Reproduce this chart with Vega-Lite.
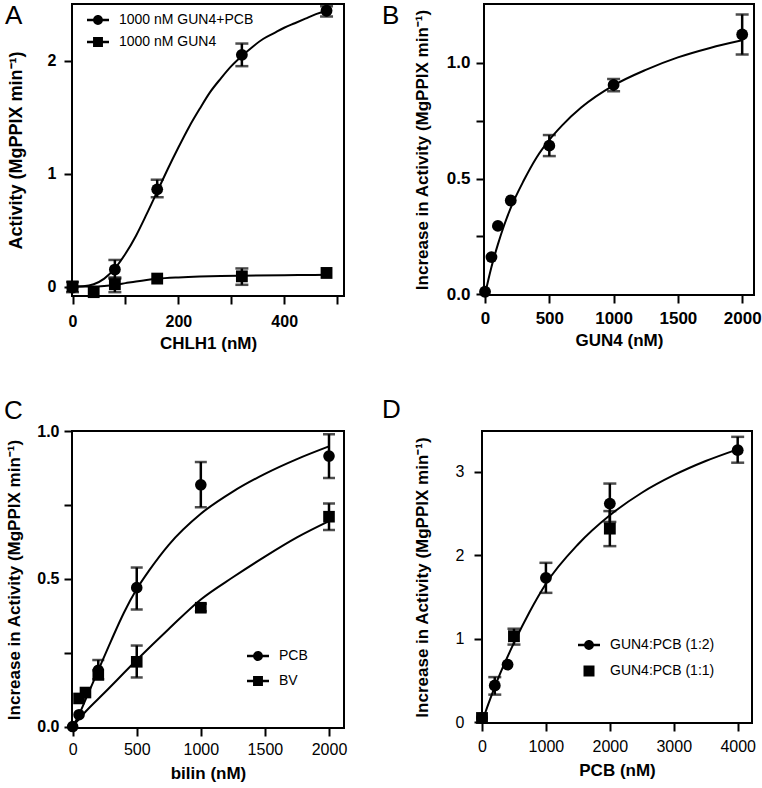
{
  "$schema": "https://vega.github.io/schema/vega-lite/v6.json",
  "padding": {"left": 3, "top": 2, "right": 0, "bottom": 0},
  "background": "white",
  "datasets": {
    "a_pts": [
      {"conc": 0, "activity": -0.01, "err_lo": -0.05, "err_hi": 0.04, "series": "1000 nM GUN4+PCB"},
      {"conc": 80, "activity": 0.15, "err_lo": 0.07, "err_hi": 0.235, "series": "1000 nM GUN4+PCB"},
      {"conc": 160, "activity": 0.86, "err_lo": 0.79, "err_hi": 0.945, "series": "1000 nM GUN4+PCB"},
      {"conc": 320, "activity": 2.05, "err_lo": 1.95, "err_hi": 2.15, "series": "1000 nM GUN4+PCB"},
      {"conc": 480, "activity": 2.44, "err_lo": 2.39, "err_hi": 2.48, "series": "1000 nM GUN4+PCB"},
      {"conc": 0, "activity": 0.0, "series": "1000 nM GUN4"},
      {"conc": 40, "activity": -0.05, "series": "1000 nM GUN4"},
      {"conc": 80, "activity": 0.02, "err_lo": -0.05, "err_hi": 0.08, "series": "1000 nM GUN4"},
      {"conc": 160, "activity": 0.07, "series": "1000 nM GUN4"},
      {"conc": 320, "activity": 0.09, "err_lo": 0.015, "err_hi": 0.16, "series": "1000 nM GUN4"},
      {"conc": 480, "activity": 0.12, "series": "1000 nM GUN4"}
    ],
    "a_fit": [
      {"conc": 0, "activity": 0, "series": "PCB"},
      {"conc": 20, "activity": 0.003, "series": "PCB"},
      {"conc": 40, "activity": 0.02, "series": "PCB"},
      {"conc": 60, "activity": 0.07, "series": "PCB"},
      {"conc": 80, "activity": 0.16, "series": "PCB"},
      {"conc": 100, "activity": 0.29, "series": "PCB"},
      {"conc": 120, "activity": 0.45, "series": "PCB"},
      {"conc": 140, "activity": 0.64, "series": "PCB"},
      {"conc": 160, "activity": 0.84, "series": "PCB"},
      {"conc": 180, "activity": 1.04, "series": "PCB"},
      {"conc": 200, "activity": 1.23, "series": "PCB"},
      {"conc": 220, "activity": 1.41, "series": "PCB"},
      {"conc": 240, "activity": 1.57, "series": "PCB"},
      {"conc": 260, "activity": 1.72, "series": "PCB"},
      {"conc": 280, "activity": 1.84, "series": "PCB"},
      {"conc": 300, "activity": 1.95, "series": "PCB"},
      {"conc": 320, "activity": 2.04, "series": "PCB"},
      {"conc": 340, "activity": 2.12, "series": "PCB"},
      {"conc": 360, "activity": 2.19, "series": "PCB"},
      {"conc": 380, "activity": 2.24, "series": "PCB"},
      {"conc": 400, "activity": 2.29, "series": "PCB"},
      {"conc": 420, "activity": 2.33, "series": "PCB"},
      {"conc": 440, "activity": 2.37, "series": "PCB"},
      {"conc": 460, "activity": 2.41, "series": "PCB"},
      {"conc": 480, "activity": 2.44, "series": "PCB"},
      {"conc": 490, "activity": 2.45, "series": "PCB"},
      {"conc": 0, "activity": 0, "series": "GUN4"},
      {"conc": 40, "activity": 0.0, "series": "GUN4"},
      {"conc": 60, "activity": 0.005, "series": "GUN4"},
      {"conc": 80, "activity": 0.015, "series": "GUN4"},
      {"conc": 100, "activity": 0.03, "series": "GUN4"},
      {"conc": 120, "activity": 0.045, "series": "GUN4"},
      {"conc": 140, "activity": 0.058, "series": "GUN4"},
      {"conc": 160, "activity": 0.068, "series": "GUN4"},
      {"conc": 200, "activity": 0.08, "series": "GUN4"},
      {"conc": 240, "activity": 0.088, "series": "GUN4"},
      {"conc": 280, "activity": 0.093, "series": "GUN4"},
      {"conc": 320, "activity": 0.096, "series": "GUN4"},
      {"conc": 400, "activity": 0.1, "series": "GUN4"},
      {"conc": 480, "activity": 0.104, "series": "GUN4"},
      {"conc": 490, "activity": 0.105, "series": "GUN4"}
    ],
    "b_pts": [
      {"conc": 0, "activity": 0.01},
      {"conc": 50, "activity": 0.16},
      {"conc": 100, "activity": 0.295},
      {"conc": 200, "activity": 0.405},
      {"conc": 500, "activity": 0.642, "err_lo": 0.597, "err_hi": 0.688},
      {"conc": 1000, "activity": 0.905, "err_lo": 0.878, "err_hi": 0.93},
      {"conc": 2000, "activity": 1.123, "err_lo": 1.036, "err_hi": 1.21}
    ],
    "b_fit": [
      {"conc": 0, "activity": 0},
      {"conc": 25, "activity": 0.06},
      {"conc": 50, "activity": 0.117},
      {"conc": 100, "activity": 0.215},
      {"conc": 150, "activity": 0.3},
      {"conc": 200, "activity": 0.373},
      {"conc": 300, "activity": 0.49},
      {"conc": 400, "activity": 0.59},
      {"conc": 500, "activity": 0.667},
      {"conc": 600, "activity": 0.73},
      {"conc": 750, "activity": 0.808},
      {"conc": 1000, "activity": 0.903},
      {"conc": 1250, "activity": 0.97},
      {"conc": 1500, "activity": 1.024},
      {"conc": 1750, "activity": 1.065},
      {"conc": 2000, "activity": 1.098}
    ],
    "c_pts": [
      {"conc": 0, "activity": 0.0, "series": "PCB"},
      {"conc": 50, "activity": 0.04, "series": "PCB"},
      {"conc": 200, "activity": 0.19, "err_lo": 0.16, "err_hi": 0.225, "series": "PCB"},
      {"conc": 500, "activity": 0.47, "err_lo": 0.396, "err_hi": 0.538, "series": "PCB"},
      {"conc": 1000, "activity": 0.818, "err_lo": 0.742, "err_hi": 0.895, "series": "PCB"},
      {"conc": 2000, "activity": 0.915, "err_lo": 0.841, "err_hi": 0.989, "series": "PCB"},
      {"conc": 50, "activity": 0.095, "series": "BV"},
      {"conc": 100, "activity": 0.115, "series": "BV"},
      {"conc": 200, "activity": 0.175, "series": "BV"},
      {"conc": 500, "activity": 0.219, "err_lo": 0.166, "err_hi": 0.274, "series": "BV"},
      {"conc": 1000, "activity": 0.402, "err_lo": 0.39, "err_hi": 0.415, "series": "BV"},
      {"conc": 2000, "activity": 0.71, "err_lo": 0.665, "err_hi": 0.755, "series": "BV"}
    ],
    "c_fit": [
      {"conc": 0, "activity": 0, "series": "PCB"},
      {"conc": 50, "activity": 0.04, "series": "PCB"},
      {"conc": 100, "activity": 0.09, "series": "PCB"},
      {"conc": 200, "activity": 0.19, "series": "PCB"},
      {"conc": 300, "activity": 0.29, "series": "PCB"},
      {"conc": 400, "activity": 0.385, "series": "PCB"},
      {"conc": 500, "activity": 0.465, "series": "PCB"},
      {"conc": 600, "activity": 0.53, "series": "PCB"},
      {"conc": 750, "activity": 0.615, "series": "PCB"},
      {"conc": 1000, "activity": 0.72, "series": "PCB"},
      {"conc": 1250, "activity": 0.795, "series": "PCB"},
      {"conc": 1500, "activity": 0.855, "series": "PCB"},
      {"conc": 1750, "activity": 0.905, "series": "PCB"},
      {"conc": 2000, "activity": 0.948, "series": "PCB"},
      {"conc": 0, "activity": 0, "series": "BV"},
      {"conc": 100, "activity": 0.05, "series": "BV"},
      {"conc": 250, "activity": 0.115, "series": "BV"},
      {"conc": 500, "activity": 0.225, "series": "BV"},
      {"conc": 750, "activity": 0.33, "series": "BV"},
      {"conc": 1000, "activity": 0.43, "series": "BV"},
      {"conc": 1250, "activity": 0.505, "series": "BV"},
      {"conc": 1500, "activity": 0.575, "series": "BV"},
      {"conc": 1750, "activity": 0.64, "series": "BV"},
      {"conc": 2000, "activity": 0.695, "series": "BV"}
    ],
    "d_pts": [
      {"conc": 0, "activity": 0.05, "series": "GUN4:PCB (1:2)"},
      {"conc": 200, "activity": 0.44, "err_lo": 0.33, "err_hi": 0.54, "series": "GUN4:PCB (1:2)"},
      {"conc": 400, "activity": 0.69, "series": "GUN4:PCB (1:2)"},
      {"conc": 1000, "activity": 1.73, "err_lo": 1.55, "err_hi": 1.91, "series": "GUN4:PCB (1:2)"},
      {"conc": 2000, "activity": 2.62, "err_lo": 2.4, "err_hi": 2.86, "series": "GUN4:PCB (1:2)"},
      {"conc": 4000, "activity": 3.26, "err_lo": 3.11, "err_hi": 3.42, "series": "GUN4:PCB (1:2)"},
      {"conc": 0, "activity": 0.05, "series": "GUN4:PCB (1:1)"},
      {"conc": 500, "activity": 1.03, "err_lo": 0.93, "err_hi": 1.12, "series": "GUN4:PCB (1:1)"},
      {"conc": 2000, "activity": 2.32, "err_lo": 2.11, "err_hi": 2.53, "series": "GUN4:PCB (1:1)"}
    ],
    "d_fit": [
      {"conc": 0, "activity": 0},
      {"conc": 100, "activity": 0.22},
      {"conc": 250, "activity": 0.52},
      {"conc": 500, "activity": 0.95},
      {"conc": 750, "activity": 1.33},
      {"conc": 1000, "activity": 1.66},
      {"conc": 1500, "activity": 2.13},
      {"conc": 2000, "activity": 2.48},
      {"conc": 2500, "activity": 2.75},
      {"conc": 3000, "activity": 2.96},
      {"conc": 3500, "activity": 3.13},
      {"conc": 4000, "activity": 3.27}
    ]
  },
  "spacing": 44,
  "vconcat": [
    {
      "spacing": 36,
      "hconcat": [
        {
          "width": 272,
          "height": 292,
          "title": {"text": "A", "dx": -67, "dy": 29},
          "encoding": {
            "x": {"field": "conc", "type": "quantitative", "scale": {"domain": [-1, 513], "nice": false, "zero": false},
              "axis": {"values": [0, 100, 200, 300, 400, 500], "format": "d", "labelExpr": "datum.value % 200 === 0 ? datum.label : ''", "title": "CHLH1 (nM)", "labelFontWeight": "bold", "labelPadding": 9, "titlePadding": 6}},
            "y": {"field": "activity", "type": "quantitative", "scale": {"domain": [-0.084, 2.5], "nice": false, "zero": false},
              "axis": {"values": [0, 1, 2], "title": "Activity (MgPPIX min⁻¹)", "labelFontWeight": "bold", "labelPadding": 8, "titleFontSize": 18, "titlePadding": 22}}
          },
          "layer": [
            {"data": {"name": "a_fit"}, "mark": {"type": "line", "color": "black", "strokeWidth": 2, "interpolate": "monotone"}, "encoding": {"detail": {"field": "series"}}},
            {"data": {"name": "a_pts"}, "transform": [{"filter": "isValid(datum.err_lo)"}],
              "mark": {"type": "errorbar", "color": "black", "thickness": 2.5, "ticks": {"size": 13, "thickness": 2.5, "color": "black"}},
              "encoding": {"y": {"field": "err_lo", "type": "quantitative", "scale": {"domain": [-0.084, 2.5], "nice": false, "zero": false}}, "y2": {"field": "err_hi"}}},
            {"data": {"name": "a_pts"}, "mark": {"type": "point", "filled": true, "opacity": 1, "color": "black", "size": 140},
              "encoding": {"shape": {"field": "series", "type": "nominal", "scale": {"domain": ["1000 nM GUN4+PCB", "1000 nM GUN4"], "range": ["circle", "square"]}, "legend": null}}},
            {"data": {"name": "a_pts"}, "transform": [{"filter": "false"}], "mark": {"type": "point", "filled": true, "opacity": 1, "color": "black"},
              "encoding": {"shape": {"field": "series", "type": "nominal",
                "scale": {"domain": ["1000 nM GUN4+PCB", "1000 nM GUN4"], "range": ["M-1,-0.12H1V0.12H-1Z M-0.45,0A0.45,0.45,0,1,1,0.45,0A0.45,0.45,0,1,1,-0.45,0Z", "M-1,-0.12H1V0.12H-1Z M-0.45,-0.45H0.45V0.45H-0.45Z"]},
                "legend": {"title": null, "orient": "none", "legendX": 15, "legendY": 5, "padding": 0, "symbolSize": 484, "symbolStrokeWidth": 0, "symbolFillColor": "black", "labelFontSize": 14, "labelOffset": 10, "rowPadding": 4, "labelColor": "black", "labelLimit": 300}}}}
          ],
          "resolve": {"scale": {"shape": "independent"}}
        },
        {
          "width": 270,
          "height": 291,
          "title": {"text": "B", "dx": -102, "dy": 29},
          "encoding": {
            "x": {"field": "conc", "type": "quantitative", "scale": {"domain": [-8, 2092], "nice": false, "zero": false},
              "axis": {"values": [0, 500, 1000, 1500, 2000], "format": "d", "title": "GUN4 (nM)", "labelFontWeight": "bold", "labelFontSize": 17, "labelPadding": 7, "titlePadding": 6}},
            "y": {"field": "activity", "type": "quantitative", "scale": {"domain": [-0.004, 1.255], "nice": false, "zero": false},
              "axis": {"values": [0, 0.25, 0.5, 0.75, 1], "format": ".1f", "labelExpr": "datum.value == 0.25 || datum.value == 0.75 ? '' : datum.label", "title": "Increase in Activity (MgPPIX min⁻¹)", "labelFontWeight": "bold", "labelFontSize": 17, "labelPadding": 6, "titlePadding": 15}}
          },
          "layer": [
            {"data": {"name": "b_fit"}, "mark": {"type": "line", "color": "black", "strokeWidth": 2, "interpolate": "monotone"}, "encoding": {}},
            {"data": {"name": "b_pts"}, "transform": [{"filter": "isValid(datum.err_lo)"}],
              "mark": {"type": "errorbar", "color": "black", "thickness": 2.5, "ticks": {"size": 13, "thickness": 2.5, "color": "black"}},
              "encoding": {"y": {"field": "err_lo", "type": "quantitative", "scale": {"domain": [-0.004, 1.255], "nice": false, "zero": false}}, "y2": {"field": "err_hi"}}},
            {"data": {"name": "b_pts"}, "mark": {"type": "point", "shape": "circle", "filled": true, "opacity": 1, "color": "black", "size": 140}, "encoding": {}}
          ]
        }
      ]
    },
    {
      "spacing": 33,
      "hconcat": [
        {
          "width": 272,
          "height": 297,
          "title": {"text": "C", "dx": -68, "dy": 5},
          "encoding": {
            "x": {"field": "conc", "type": "quantitative", "scale": {"domain": [-5, 2117], "nice": false, "zero": false},
              "axis": {"values": [0, 500, 1000, 1500, 2000], "format": "d", "title": "bilin (nM)", "labelPadding": 5, "titlePadding": 8}},
            "y": {"field": "activity", "type": "quantitative", "scale": {"domain": [-0.005, 1.0], "nice": false, "zero": false},
              "axis": {"values": [0, 0.25, 0.5, 0.75, 1], "format": ".1f", "labelExpr": "datum.value == 0.25 || datum.value == 0.75 ? '' : datum.label", "title": "Increase in Activity (MgPPIX min⁻¹)", "labelFontWeight": "bold", "labelPadding": 5, "titlePadding": 13}}
          },
          "layer": [
            {"data": {"name": "c_fit"}, "mark": {"type": "line", "color": "black", "strokeWidth": 2, "interpolate": "monotone"}, "encoding": {"detail": {"field": "series"}}},
            {"data": {"name": "c_pts"}, "transform": [{"filter": "isValid(datum.err_lo)"}],
              "mark": {"type": "errorbar", "color": "black", "thickness": 2.5, "ticks": {"size": 12, "thickness": 2.5, "color": "black"}},
              "encoding": {"y": {"field": "err_lo", "type": "quantitative", "scale": {"domain": [-0.005, 1.0], "nice": false, "zero": false}}, "y2": {"field": "err_hi"}}},
            {"data": {"name": "c_pts"}, "mark": {"type": "point", "filled": true, "opacity": 1, "color": "black", "size": 135},
              "encoding": {"shape": {"field": "series", "type": "nominal", "scale": {"domain": ["PCB", "BV"], "range": ["circle", "square"]}, "legend": null}}},
            {"data": {"name": "c_pts"}, "transform": [{"filter": "false"}], "mark": {"type": "point", "filled": true, "opacity": 1, "color": "black"},
              "encoding": {"shape": {"field": "series", "type": "nominal",
                "scale": {"domain": ["PCB", "BV"], "range": ["M-1,-0.12H1V0.12H-1Z M-0.45,0A0.45,0.45,0,1,1,0.45,0A0.45,0.45,0,1,1,-0.45,0Z", "M-1,-0.12H1V0.12H-1Z M-0.45,-0.45H0.45V0.45H-0.45Z"]},
                "legend": {"title": null, "orient": "none", "legendX": 175, "legendY": 214, "padding": 0, "symbolSize": 484, "symbolStrokeWidth": 0, "symbolFillColor": "black", "labelFontSize": 14, "labelOffset": 10, "rowPadding": 7, "labelColor": "black", "labelLimit": 300}}}}
          ],
          "resolve": {"scale": {"shape": "independent"}}
        },
        {
          "width": 270,
          "height": 292,
          "title": {"text": "D", "dx": -100, "dy": -4},
          "encoding": {
            "x": {"field": "conc", "type": "quantitative", "scale": {"domain": [0, 4224], "nice": false, "zero": false},
              "axis": {"values": [0, 1000, 2000, 3000, 4000], "format": "d", "title": "PCB (nM)", "labelPadding": 7, "titlePadding": 8}},
            "y": {"field": "activity", "type": "quantitative", "scale": {"domain": [-0.01, 3.49], "nice": false, "zero": false},
              "axis": {"values": [0, 1, 2, 3], "title": "Increase in Activity (MgPPIX min⁻¹)", "labelPadding": 10, "titlePadding": 24}}
          },
          "layer": [
            {"data": {"name": "d_fit"}, "mark": {"type": "line", "color": "black", "strokeWidth": 2, "interpolate": "monotone"}, "encoding": {}},
            {"data": {"name": "d_pts"}, "transform": [{"filter": "isValid(datum.err_lo)"}],
              "mark": {"type": "errorbar", "color": "black", "thickness": 2.5, "ticks": {"size": 13, "thickness": 2.5, "color": "black"}},
              "encoding": {"y": {"field": "err_lo", "type": "quantitative", "scale": {"domain": [-0.01, 3.49], "nice": false, "zero": false}}, "y2": {"field": "err_hi"}}},
            {"data": {"name": "d_pts"}, "mark": {"type": "point", "filled": true, "opacity": 1, "color": "black", "size": 140},
              "encoding": {"shape": {"field": "series", "type": "nominal", "scale": {"domain": ["GUN4:PCB (1:2)", "GUN4:PCB (1:1)"], "range": ["circle", "square"]}, "legend": null}}},
            {"data": {"name": "d_pts"}, "transform": [{"filter": "false"}], "mark": {"type": "point", "filled": true, "opacity": 1, "color": "black"},
              "encoding": {"shape": {"field": "series", "type": "nominal",
                "scale": {"domain": ["GUN4:PCB (1:2)", "GUN4:PCB (1:1)"], "range": ["M-1,-0.12H1V0.12H-1Z M-0.45,0A0.45,0.45,0,1,1,0.45,0A0.45,0.45,0,1,1,-0.45,0Z", "M-0.5,-0.5H0.5V0.5H-0.5Z"]},
                "legend": {"title": null, "orient": "none", "legendX": 96, "legendY": 203, "padding": 0, "symbolSize": 484, "symbolStrokeWidth": 0, "symbolFillColor": "black", "labelFontSize": 14, "labelOffset": 10, "rowPadding": 8, "labelColor": "black", "labelLimit": 300}}}}
          ],
          "resolve": {"scale": {"shape": "independent"}}
        }
      ]
    }
  ],
  "config": {
    "font": "Liberation Sans",
    "view": {"stroke": "black", "strokeWidth": 2},
    "axis": {"domain": false, "grid": false, "ticks": true, "tickColor": "black", "tickWidth": 2, "tickSize": 8, "labelColor": "black", "labelFontSize": 16, "labelPadding": 4, "labelFlush": false, "labelOverlap": false, "titleColor": "black", "titleFontSize": 17, "titleFontWeight": "bold"},
    "title": {"fontSize": 26, "fontWeight": "normal", "anchor": "start", "frame": "group", "baseline": "top", "offset": 0, "color": "black"}
  }
}
